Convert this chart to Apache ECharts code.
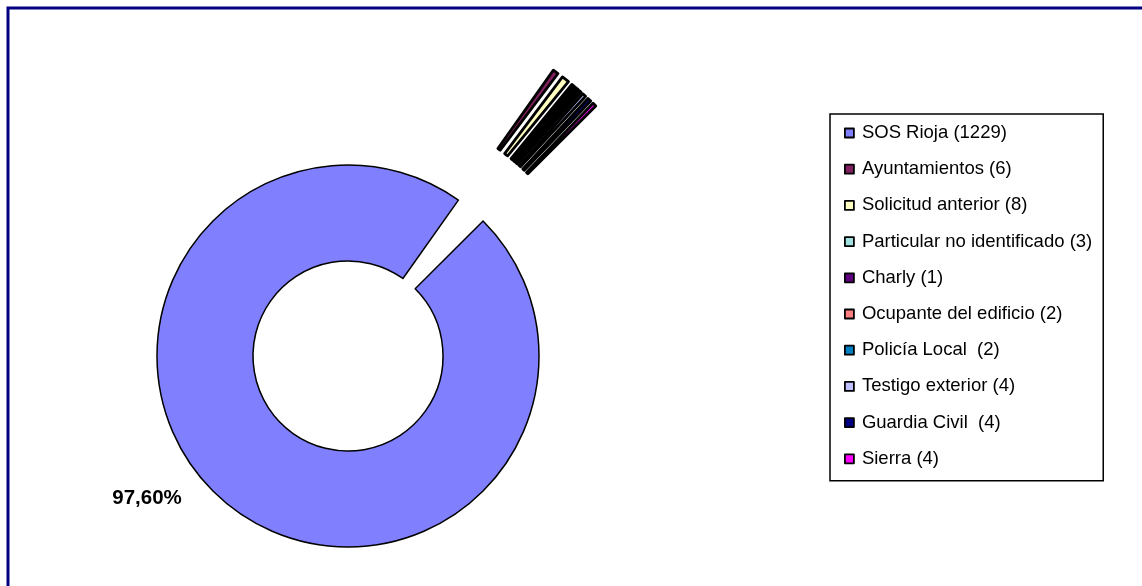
<!DOCTYPE html>
<html>
<head>
<meta charset="utf-8">
<script src="https://cdn.jsdelivr.net/npm/echarts@6/dist/echarts.min.js"></script>
<style>
    html, body { margin: 0; padding: 0; background: #fff; }
    #origen { width: 1142px; height: 586px; }
</style>
</head>
<body>
<div id="origen"></div>
<script>
// categories (legend text as shown) and counts
const categorias = [
    'SOS Rioja (1229)',
    'Ayuntamientos (6)',
    'Solicitud anterior (8)',
    'Particular no identificado (3)',
    'Charly (1)',
    'Ocupante del edificio (2)',
    'Policía Local  (2)',
    'Testigo exterior (4)',
    'Guardia Civil  (4)',
    'Sierra (4)'
];
const valores = [1229, 6, 8, 3, 1, 2, 2, 4, 4, 4];
const colores = ['#8080FF', '#802060', '#FFFFC0', '#A0E0E0', '#600080',
                 '#FF8080', '#0080C0', '#C0C0FF', '#000080', '#FF00FF'];
const etiquetaPrincipal = '97,60%';

let myChart = echarts.init(document.getElementById('origen'));

let datos = categorias.map(function (c, i) {
    return {
        name: c,
        value: valores[i],
        selected: i > 0,
        // thin exploded slices: thicker outline fills the gaps like the original
        itemStyle: { color: colores[i], borderWidth: i > 0 ? 2.8 : 1.5 },
        label: { show: i === 0 }
    };
});

myChart.setOption({
    animation: false,
    textStyle: { fontFamily: 'Liberation Sans, Arial, sans-serif' },
    graphic: [{
        type: 'rect',
        shape: { x: 8, y: 8, width: 1300, height: 800 },
        style: { fill: 'none', stroke: '#000080', lineWidth: 3 },
        silent: true
    }],
    legend: {
        orient: 'vertical',
        left: 830,
        top: 114,
        padding: [8, 11, 11, 14],
        borderColor: '#000',
        borderWidth: 1.5,
        backgroundColor: '#fff',
        icon: 'rect',
        itemWidth: 9,
        itemHeight: 9,
        itemGap: 14.2,
        selectedMode: false,
        itemStyle: { borderColor: '#000', borderWidth: 1.8 },
        textStyle: {
            fontSize: 18.5,
            lineHeight: 22,
            color: '#000',
            padding: [0, 0, 0, 3]
        },
        data: categorias
    },
    series: [{
        type: 'pie',
        center: [348, 356],
        radius: [95, 191],
        startAngle: 45,
        clockwise: true,
        selectedMode: 'multiple',
        selectedOffset: 161,
        avoidLabelOverlap: false,
        emphasis: { disabled: true },
        itemStyle: { borderColor: '#000', borderWidth: 1.5 },
        label: {
            formatter: function () { return etiquetaPrincipal; },
            fontSize: 20.5,
            fontWeight: 'bold',
            color: '#000'
        },
        labelLine: { show: false },
        labelLayout: function (p) {
            if (p.dataIndex === 0) {
                return { x: 147, y: 498, align: 'center', verticalAlign: 'middle' };
            }
        },
        data: datos
    }]
});
</script>
</body>
</html>
